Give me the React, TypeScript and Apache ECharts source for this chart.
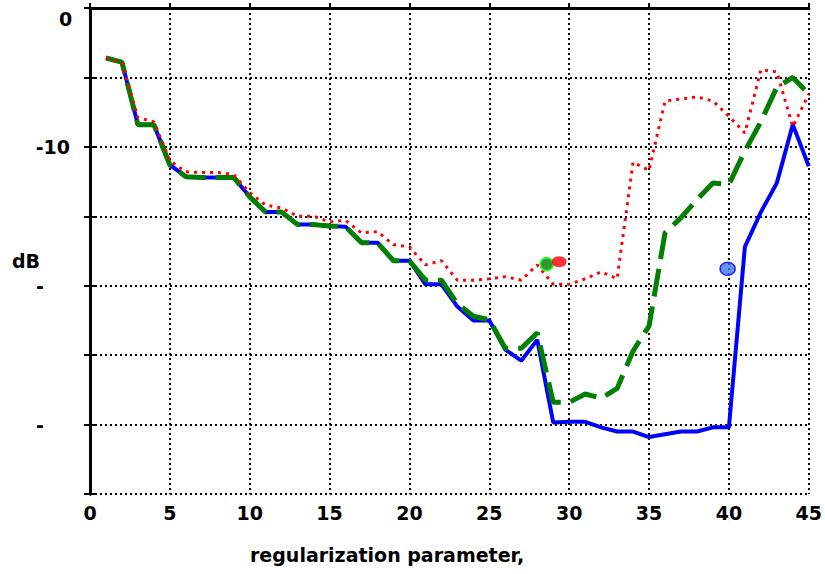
import React, { useEffect, useRef } from "react";
import * as echarts from "echarts";

const xValues = [1,2,3,4,5,6,7,8,9,10,11,12,13,14,15,16,17,18,19,20,21,22,23,24,25,26,27,28,29,30,31,32,33,34,35,36,37,38,39,40,41,42,43,44,45];

const blueValues = [-3.6,-3.9,-8.4,-8.4,-11.3,-12.15,-12.2,-12.2,-12.2,-13.6,-14.7,-14.7,-15.6,-15.6,-15.7,-15.75,-16.9,-16.9,-18.2,-18.2,-19.9,-19.9,-21.5,-22.5,-22.5,-24.6,-25.4,-23.9,-29.85,-29.8,-29.8,-30.2,-30.5,-30.5,-30.9,-30.7,-30.5,-30.5,-30.2,-30.2,-17.2,-14.7,-12.6,-8.4,-11.4];

const greenValues = [-3.6,-3.9,-8.4,-8.4,-11.3,-12.15,-12.2,-12.2,-12.2,-13.6,-14.7,-14.7,-15.6,-15.6,-15.7,-15.75,-16.9,-16.9,-18.2,-18.2,-19.6,-19.6,-21.3,-22.2,-22.45,-24.5,-24.5,-23.4,-28.4,-28.4,-27.8,-28.1,-27.4,-24.7,-22.9,-16.2,-15.1,-13.8,-12.6,-12.7,-10.3,-8.2,-5.7,-5.0,-6.2];

const redValues = [-3.6,-3.95,-7.9,-8.2,-11.0,-11.8,-11.85,-11.85,-12.0,-13.3,-14.2,-14.4,-15.0,-15.0,-15.4,-15.3,-16.2,-16.1,-17.05,-17.2,-18.5,-18.2,-19.6,-19.6,-19.5,-19.35,-19.6,-18.5,-19.9,-19.9,-19.5,-19.0,-19.5,-11.1,-11.7,-6.7,-6.55,-6.4,-6.7,-7.8,-9.0,-4.45,-4.6,-8.55,-6.2];

const greenMarker = [28.59, -18.45];
const redMarker = [29.37, -18.27];
const blueMarker = [39.92, -18.78];

const yTickLabels: Record<string, string> = { "0": "", "-10": "-10", "-20": "{m|-}", "-30": "{m|-}" };

const FONT = "DejaVu Sans";

export default function App() {
  const ref = useRef<HTMLDivElement>(null);
  useEffect(() => {
    if (!ref.current) return;
    const chart = echarts.init(ref.current, null, { renderer: "svg" });
    const pairs = (vals: number[]) => xValues.map((x, i) => [x, vals[i]]);
    const labelStyle = { fontFamily: FONT, fontWeight: "bold" as const, fontSize: 19, color: "#000" };
    chart.setOption({
      animation: false,
      backgroundColor: "#fff",
      grid: { left: 90, right: 15, top: 8, bottom: 80, containLabel: false },
      xAxis: [
        {
          type: "value",
          min: 0,
          max: 45,
          interval: 5,
          position: "bottom",
          axisLine: { show: true, lineStyle: { color: "#000", width: 3 } },
          axisTick: { show: true, inside: true, length: 5, lineStyle: { color: "#000", width: 2 } },
          axisLabel: { ...labelStyle, margin: 9 },
          splitLine: { show: true, lineStyle: { color: "#000", width: 2, type: [2, 3] } },
        },
        {
          type: "value",
          min: 0,
          max: 45,
          interval: 5,
          position: "top",
          axisLine: { show: true, lineStyle: { color: "#000", width: 2 } },
          axisTick: { show: false },
          axisLabel: { show: false },
          splitLine: { show: false },
        },
      ],
      yAxis: [
        {
          type: "value",
          min: -35,
          max: 0,
          interval: 5,
          position: "left",
          axisLine: { show: true, lineStyle: { color: "#000", width: 3 } },
          axisTick: { show: true, inside: true, length: 5, lineStyle: { color: "#000", width: 2 } },
          axisLabel: {
            ...labelStyle,
            margin: 20,
            formatter: (v: number) => yTickLabels[String(v)] ?? "",
            rich: { m: { ...labelStyle, padding: [0, 26, 0, 0] } },
          },
          splitLine: { show: true, lineStyle: { color: "#000", width: 2, type: [2, 3] } },
        },
        {
          type: "value",
          min: -35,
          max: 0,
          interval: 5,
          position: "right",
          axisLine: { show: true, lineStyle: { color: "#000", width: 3 } },
          axisTick: { show: true, inside: true, length: 6, lineStyle: { color: "#000", width: 2 } },
          axisLabel: { show: false },
          splitLine: { show: false },
        },
      ],
      graphic: [
        { type: "text", left: 59, top: 9, style: { text: "0", font: `bold 19px '${FONT}'`, fill: "#000" } },
        { type: "text", left: 12, top: 251, style: { text: "dB", font: `bold 19px '${FONT}'`, fill: "#000" } },
        { type: "text", left: 250, top: 545, style: { text: "regularization parameter,", font: `bold 19px '${FONT}'`, fill: "#000" } },
      ],
      series: [
        {
          type: "line",
          data: pairs(blueValues),
          showSymbol: false,
          z: 2,
          lineStyle: { color: "#0000ff", width: 4 },
        },
        {
          type: "line",
          data: pairs(greenValues),
          showSymbol: false,
          z: 3,
          lineStyle: { color: "#008000", width: 5, type: [28, 10] },
        },
        {
          type: "line",
          data: pairs(redValues),
          showSymbol: false,
          z: 4,
          lineStyle: { color: "#ff0000", width: 3, type: [3, 5], cap: "butt" },
        },
        {
          type: "scatter",
          z: 5,
          data: [greenMarker],
          symbol: "circle",
          symbolSize: 13,
          itemStyle: { color: "#007a00", borderColor: "#22ff22", borderWidth: 2 },
        },
        {
          type: "scatter",
          z: 5,
          data: [redMarker],
          symbol: "circle",
          symbolSize: [15, 11],
          itemStyle: { color: "#ff0000" },
        },
        {
          type: "scatter",
          z: 5,
          data: [blueMarker],
          symbol: "circle",
          symbolSize: [15, 13],
          itemStyle: { color: "#4477ee", borderColor: "#0000ff", borderWidth: 1.5 },
        },
      ],
    });
    return () => chart.dispose();
  }, []);
  return <div ref={ref} style={{ position: "absolute", left: 0, top: 0, width: 825, height: 574 }} />;
}
